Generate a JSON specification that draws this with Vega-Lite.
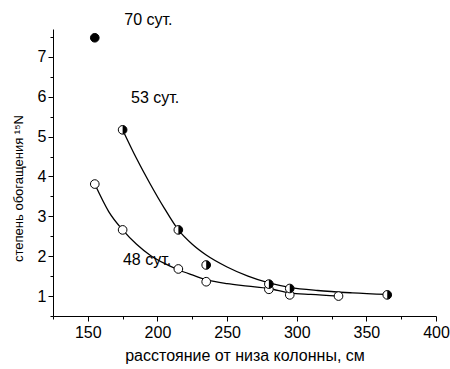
{
  "$schema": "https://vega.github.io/schema/vega-lite/v6.json",
  "width": 383,
  "height": 287,
  "autosize": "none",
  "padding": {"left": 53, "top": 29, "right": 14, "bottom": 53},
  "config": {
    "view": {"stroke": null},
    "font": "Liberation Sans",
    "axis": {"grid": false, "domainColor": "black", "tickColor": "black", "labelColor": "black", "titleColor": "black", "titleFontWeight": "normal", "labelFont": "Liberation Sans", "titleFont": "Liberation Sans"}
  },
  "datasets": {
    "curves": [
      {"x": 155, "y": 3.81, "s": "48"}, {"x": 165, "y": 3.12, "s": "48"}, {"x": 175, "y": 2.66, "s": "48"},
      {"x": 185, "y": 2.3, "s": "48"}, {"x": 195, "y": 2.02, "s": "48"}, {"x": 205, "y": 1.82, "s": "48"},
      {"x": 215, "y": 1.66, "s": "48"}, {"x": 225, "y": 1.53, "s": "48"}, {"x": 235, "y": 1.41, "s": "48"},
      {"x": 250, "y": 1.31, "s": "48"}, {"x": 265, "y": 1.25, "s": "48"}, {"x": 280, "y": 1.19, "s": "48"},
      {"x": 295, "y": 1.08, "s": "48"}, {"x": 310, "y": 1.04, "s": "48"}, {"x": 330, "y": 1.0, "s": "48"},
      {"x": 175, "y": 5.17, "s": "53"}, {"x": 185, "y": 4.45, "s": "53"}, {"x": 195, "y": 3.8, "s": "53"},
      {"x": 205, "y": 3.2, "s": "53"}, {"x": 215, "y": 2.66, "s": "53"}, {"x": 225, "y": 2.3, "s": "53"},
      {"x": 235, "y": 2.03, "s": "53"}, {"x": 250, "y": 1.73, "s": "53"}, {"x": 265, "y": 1.5, "s": "53"},
      {"x": 280, "y": 1.33, "s": "53"}, {"x": 295, "y": 1.22, "s": "53"}, {"x": 315, "y": 1.14, "s": "53"},
      {"x": 340, "y": 1.08, "s": "53"}, {"x": 365, "y": 1.04, "s": "53"}
    ],
    "points": [
      {"x": 155, "y": 3.81, "s": "48"}, {"x": 175, "y": 2.66, "s": "48"}, {"x": 215, "y": 1.68, "s": "48"},
      {"x": 235, "y": 1.36, "s": "48"}, {"x": 280, "y": 1.17, "s": "48"}, {"x": 295, "y": 1.03, "s": "48"},
      {"x": 330, "y": 1.0, "s": "48"},
      {"x": 175, "y": 5.17, "s": "53"}, {"x": 215, "y": 2.66, "s": "53"}, {"x": 235, "y": 1.78, "s": "53"},
      {"x": 280, "y": 1.3, "s": "53"}, {"x": 295, "y": 1.19, "s": "53"}, {"x": 365, "y": 1.03, "s": "53"},
      {"x": 155, "y": 7.48, "s": "70"}
    ],
    "labels": [
      {"x": 176.2, "y": 7.93, "t": "70 сут."},
      {"x": 181, "y": 5.96, "t": "53 сут."},
      {"x": 175.2, "y": 1.9, "t": "48 сут."}
    ]
  },
  "layer": [
    {
      "data": {"name": "curves"},
      "mark": {"type": "line", "interpolate": "monotone", "color": "black", "strokeWidth": 1.3},
      "encoding": {
        "x": {"field": "x", "type": "quantitative", "scale": {"domain": [125, 400], "nice": false, "zero": false},
          "axis": {"values": [150, 200, 250, 300, 350, 400], "tickSize": 5, "labelFontSize": 16, "labelPadding": 3, "labelFlush": false, "labelOverlap": false,
            "title": "расстояние от низа колонны, см", "titleFontSize": 16, "titlePadding": 7}},
        "y": {"field": "y", "type": "quantitative", "scale": {"domain": [0.5, 7.7], "nice": false, "zero": false},
          "axis": {"values": [1, 2, 3, 4, 5, 6, 7], "tickSize": 5, "labelFontSize": 16, "labelPadding": 2, "labelFlush": false, "labelOverlap": false,
            "title": "степень обогащения  ¹⁵N", "titleFontSize": 13, "titlePadding": 12, "titleY": 159}},
        "detail": {"field": "s"}
      }
    },
    {
      "data": {"name": "points"},
      "transform": [{"filter": "datum.s != '70'"}],
      "mark": {"type": "point", "shape": "circle", "filled": true, "fill": "white", "stroke": "black", "strokeWidth": 1, "size": 75, "opacity": 1},
      "encoding": {
        "x": {"field": "x", "type": "quantitative",
          "axis": {"orient": "bottom", "values": [125, 175, 225, 275, 325, 375], "tickSize": 3, "labels": false, "domain": false, "title": null}},
        "y": {"field": "y", "type": "quantitative",
          "axis": {"orient": "left", "values": [0.5, 1.5, 2.5, 3.5, 4.5, 5.5, 6.5, 7.5], "tickSize": 3, "labels": false, "domain": false, "title": null}}
      }
    },
    {
      "data": {"name": "points"},
      "transform": [{"filter": "datum.s == '53'"}],
      "mark": {"type": "point", "shape": "M0,-1 A1,1 0 0,1 0,1 Z", "filled": true, "fill": "black", "strokeWidth": 0, "size": 75, "opacity": 1},
      "encoding": {
        "x": {"field": "x", "type": "quantitative", "axis": null},
        "y": {"field": "y", "type": "quantitative", "axis": null}
      }
    },
    {
      "data": {"name": "points"},
      "transform": [{"filter": "datum.s == '70'"}],
      "mark": {"type": "point", "shape": "circle", "filled": true, "fill": "black", "stroke": "black", "strokeWidth": 1, "size": 75, "opacity": 1},
      "encoding": {
        "x": {"field": "x", "type": "quantitative", "axis": null},
        "y": {"field": "y", "type": "quantitative", "axis": null}
      }
    },
    {
      "data": {"name": "labels"},
      "mark": {"type": "text", "align": "left", "baseline": "middle", "fontSize": 16, "color": "black", "font": "Liberation Sans"},
      "encoding": {
        "x": {"field": "x", "type": "quantitative", "axis": null},
        "y": {"field": "y", "type": "quantitative", "axis": null},
        "text": {"field": "t"}
      }
    }
  ],
  "resolve": {"axis": {"x": "independent", "y": "independent"}}
}
